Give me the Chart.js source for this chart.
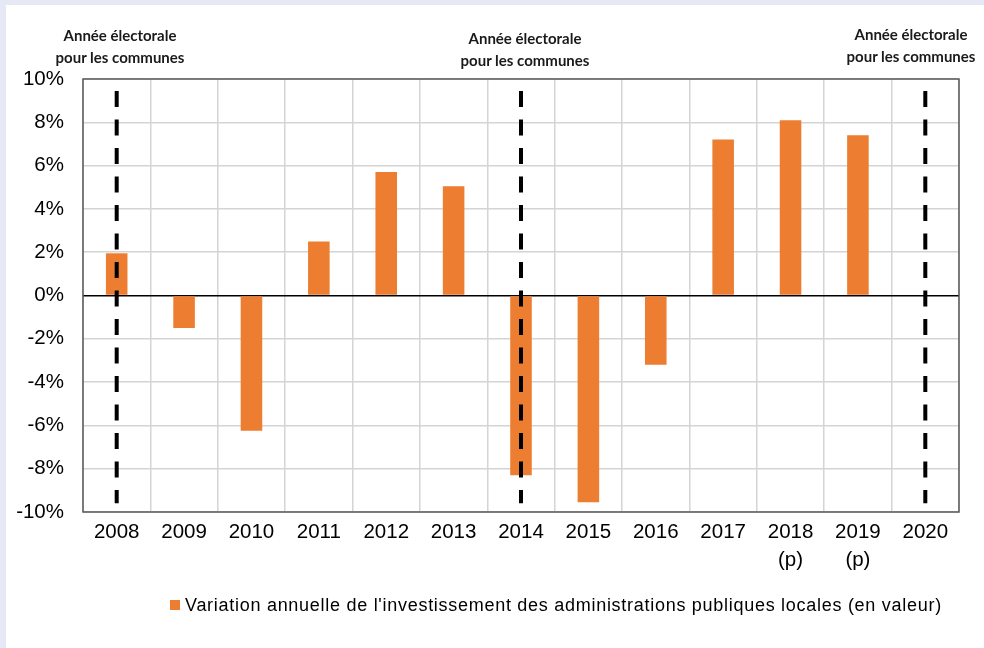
<!DOCTYPE html>
<html>
<head>
<meta charset="utf-8">
<script src="https://cdn.jsdelivr.net/npm/chart.js@4/dist/chart.umd.min.js"></script>
<style>
  html, body { margin: 0; padding: 0; }
  body { width: 984px; height: 648px; background: #E6E9F5; position: relative; overflow: hidden; font-family: "Liberation Sans", Arial, sans-serif; }
  #panel { position: absolute; left: 6px; top: 5px; width: 978px; height: 643px; background: #ffffff; }
  #wrap { position: absolute; left: 0; top: 0; width: 984px; height: 648px; }
  .note { position: absolute; width: 200px; text-align: center; font-family: Lato, "Open Sans", sans-serif; font-weight: bold; font-size: 15px; line-height: 22px; color: #1a1a1a; white-space: nowrap; }
  #legend { position: absolute; left: 170px; top: 593px; height: 24px; display: flex; align-items: center; font-size: 18px; letter-spacing: 0.72px; color: #000; white-space: nowrap; }
  #legend .sw { width: 10px; height: 10px; background: #ED7D31; margin-right: 5px; }
</style>
</head>
<body>
<div id="panel"></div>
<div id="wrap"><canvas id="c" width="984" height="648"></canvas></div>
<div class="note" id="n1" style="left:20px; top:24px;">Année électorale<br>pour les communes</div>
<div class="note" id="n2" style="left:425px; top:27px;">Année électorale<br>pour les communes</div>
<div class="note" id="n3" style="left:811px; top:23px;">Année électorale<br>pour les communes</div>
<div id="legend"><span class="sw"></span><span id="legendText"></span></div>
<script>
// ---- data ----
const categories = ['2008', '2009', '2010', '2011', '2012', '2013', '2014', '2015', '2016', '2017', ['2018', '(p)'], ['2019', '(p)'], '2020'];
const seriesName = "Variation annuelle de l'investissement des administrations publiques locales (en valeur)";
const variation = [1.95, -1.5, -6.25, 2.5, 5.7, 5.05, -8.3, -9.55, -3.2, 7.2, 8.1, 7.4, null];
const electionYears = ['2008', '2014', '2020'];
const electionLineSpan = [9.45, -9.6];
const yTicks = [-10, -8, -6, -4, -2, 0, 2, 4, 6, 8, 10];

document.getElementById('legendText').textContent = seriesName;

const lineDatasets = electionYears.map(yr => ({
  type: 'line',
  label: 'Année électorale ' + yr,
  data: electionLineSpan.map(v => ({ x: yr, y: v })),
  borderColor: '#000000',
  borderWidth: 4,
  borderDash: [16, 12.5],
  borderCapStyle: 'butt',
  pointRadius: 0,
  fill: false,
  tension: 0,
  order: 0
}));

const borderPlugin = {
  id: 'frame',
  afterDatasetsDraw(chart) {
    const a = chart.chartArea, ctx = chart.ctx;
    ctx.save();
    ctx.strokeStyle = '#595959';
    ctx.lineWidth = 1.5;
    ctx.strokeRect(a.left, a.top, a.right - a.left, a.bottom - a.top);
    ctx.restore();
  }
};

new Chart(document.getElementById('c'), {
  type: 'bar',
  data: {
    labels: categories,
    datasets: [{
      label: seriesName,
      data: variation,
      backgroundColor: '#ED7D31',
      borderWidth: 0,
      categoryPercentage: 1,
      barPercentage: 0.32,
      order: 1
    }, ...lineDatasets]
  },
  options: {
    responsive: false,
    animation: false,
    layout: { padding: { left: 0, top: 79, right: 25, bottom: 76 } },
    plugins: { legend: { display: false }, tooltip: { enabled: false } },
    scales: {
      x: {
        offset: true,
        grid: { color: '#d4d4d4', lineWidth: 1.5, drawTicks: false, offset: true },
        border: { display: false },
        ticks: {
          autoSkip: false, maxRotation: 0, padding: 7, color: '#000',
          font: { family: '"Liberation Sans", Arial, sans-serif', size: 20.5, lineHeight: 1.33 }
        },
        afterFit(s) { s.height = 60; }
      },
      y: {
        min: -10, max: 10,
        afterBuildTicks(s) { s.ticks = yTicks.map(v => ({ value: v })); },
        grid: {
          drawTicks: false,
          lineWidth: 1.5,
          color: c => (c.tick && c.tick.value === 0) ? '#000000' : '#d4d4d4'
        },
        border: { display: false },
        ticks: {
          padding: 19, color: '#000',
          font: { family: '"Liberation Sans", Arial, sans-serif', size: 20.5 },
          callback: v => v + '%'
        },
        afterFit(s) { s.width = 83; }
      }
    }
  },
  plugins: [borderPlugin]
});
</script>
</body>
</html>
